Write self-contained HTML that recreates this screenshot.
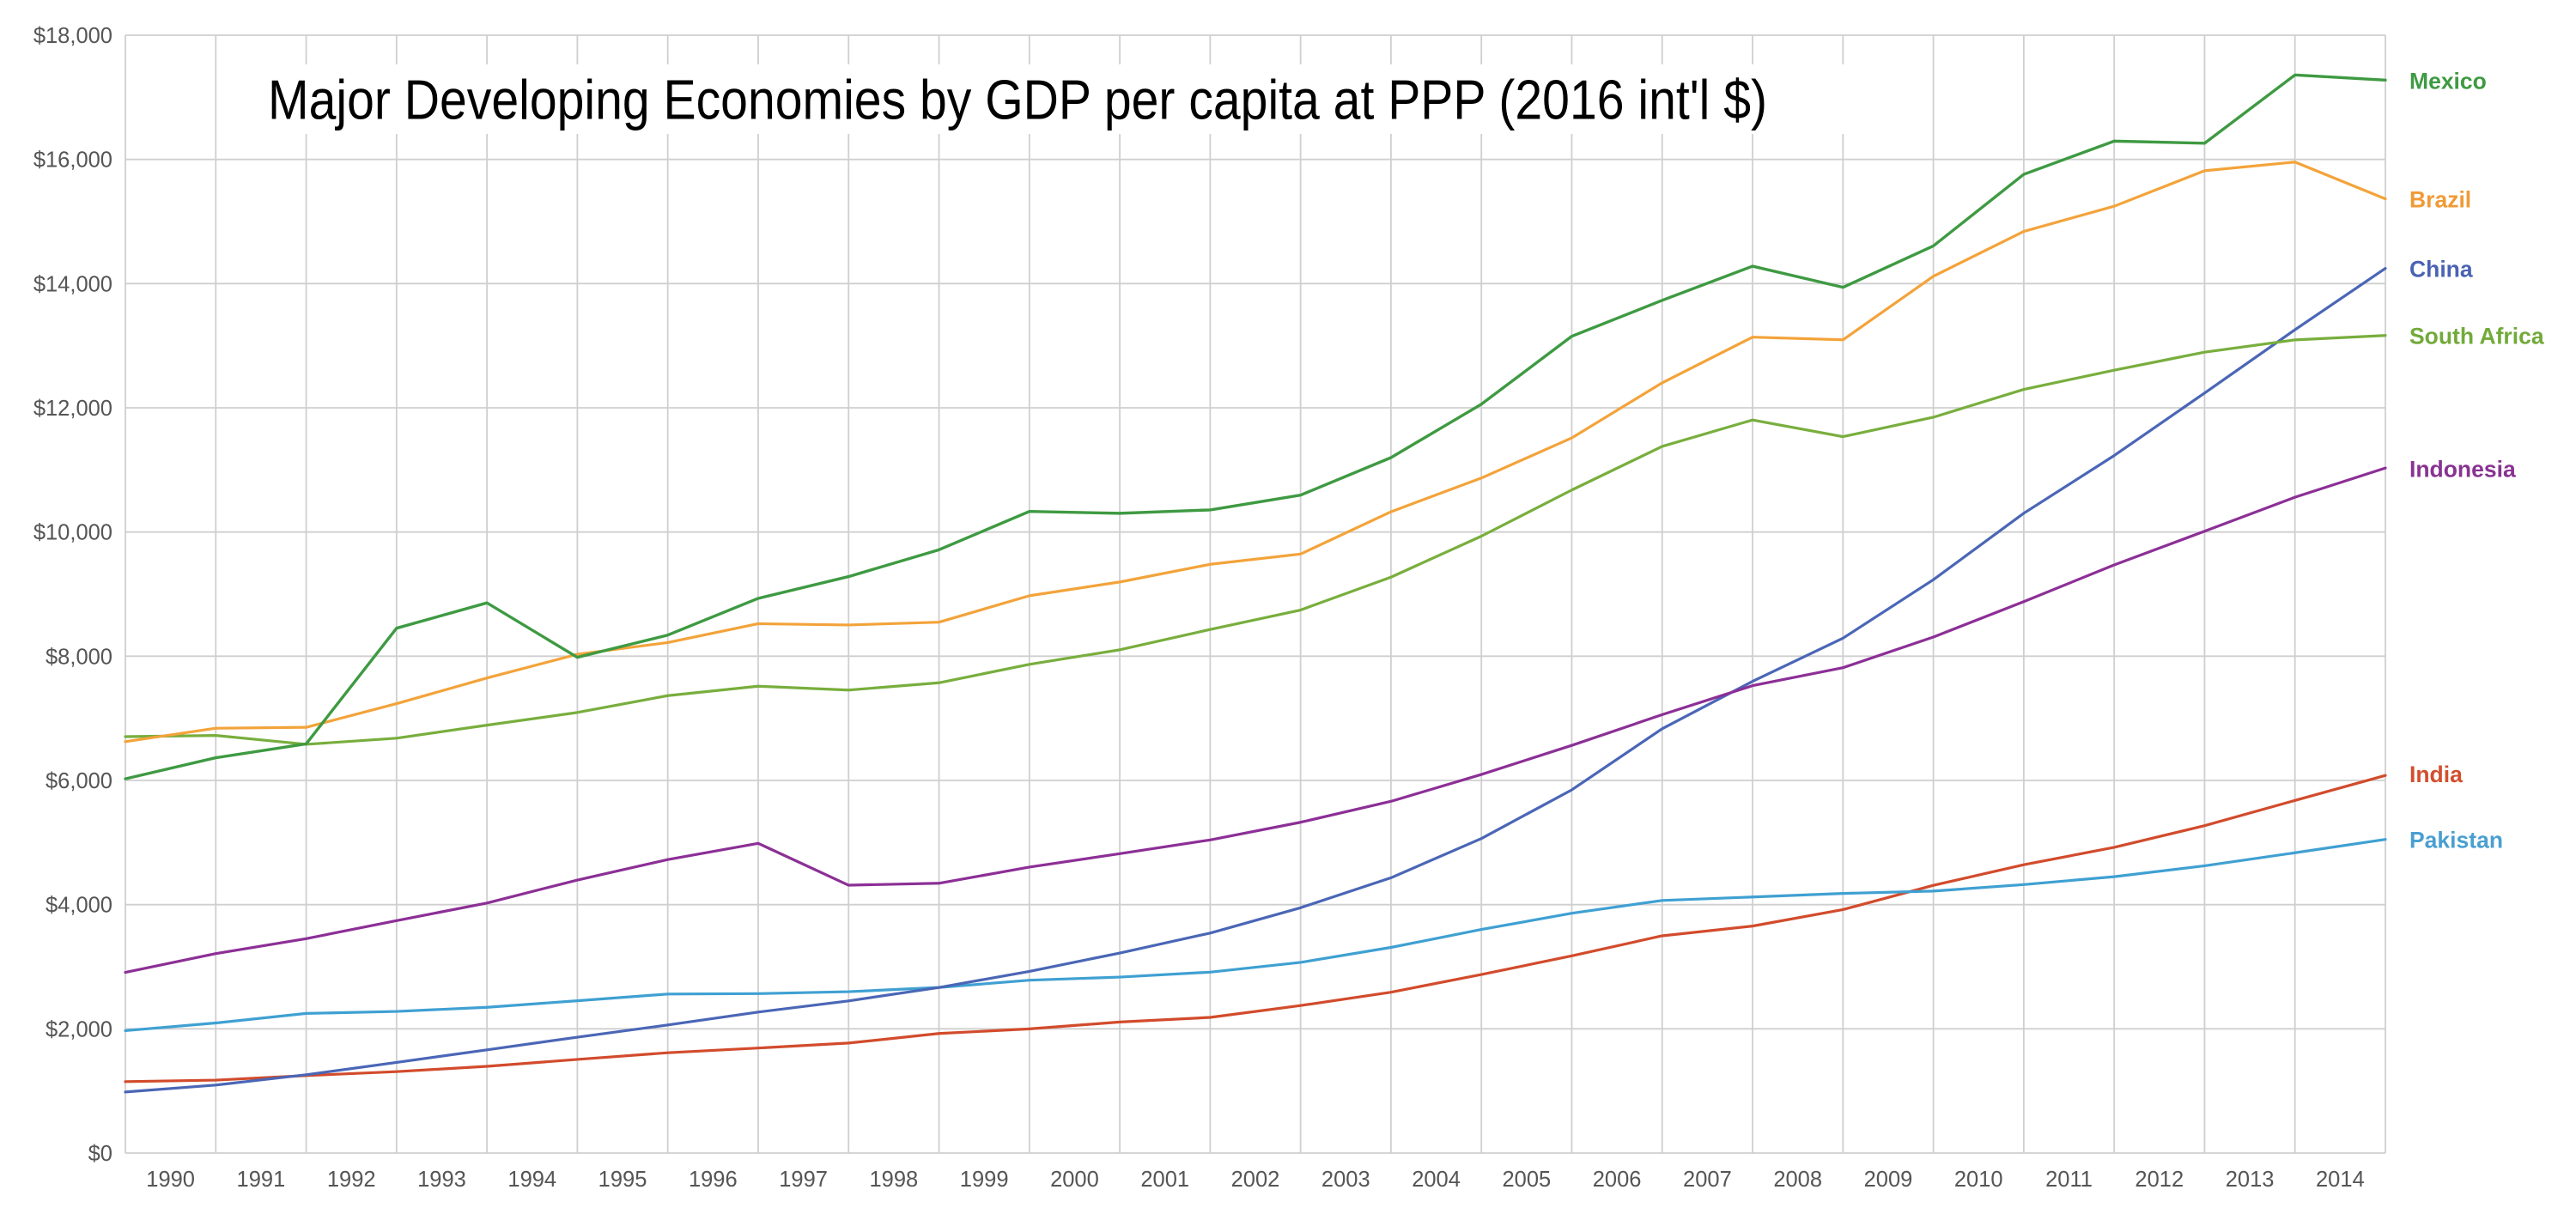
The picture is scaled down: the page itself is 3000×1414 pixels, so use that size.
<!DOCTYPE html>
<html>
<head>
<meta charset="utf-8">
<style>
  html,body{margin:0;padding:0;background:#fff;}
  svg{display:block;}
  .ax{font-family:"Liberation Sans",Arial,sans-serif;font-size:25.5px;fill:#555;}
  .lbl{font-family:"Liberation Sans",Arial,sans-serif;font-size:26.5px;font-weight:bold;}
</style>
</head>
<body>
<svg width="3000" height="1414" viewBox="0 0 3000 1414" xmlns="http://www.w3.org/2000/svg">
  <rect x="0" y="0" width="3000" height="1414" fill="#fff"/>

  <!-- horizontal gridlines -->
  <g stroke="#cfcfcf" stroke-width="1.8" fill="none">
    <line x1="146" y1="41" x2="2778" y2="41"/>
    <line x1="146" y1="185.67" x2="2778" y2="185.67"/>
    <line x1="146" y1="330.33" x2="2778" y2="330.33"/>
    <line x1="146" y1="475" x2="2778" y2="475"/>
    <line x1="146" y1="619.67" x2="2778" y2="619.67"/>
    <line x1="146" y1="764.33" x2="2778" y2="764.33"/>
    <line x1="146" y1="909" x2="2778" y2="909"/>
    <line x1="146" y1="1053.67" x2="2778" y2="1053.67"/>
    <line x1="146" y1="1198.33" x2="2778" y2="1198.33"/>
    <line x1="146" y1="1343" x2="2778" y2="1343"/>
  </g>
  <!-- vertical gridlines -->
  <g stroke="#cfcfcf" stroke-width="1.8" fill="none">
    <line x1="146" y1="41" x2="146" y2="1343"/>
    <line x1="251.28" y1="41" x2="251.28" y2="1343"/>
    <line x1="356.56" y1="41" x2="356.56" y2="1343"/>
    <line x1="461.84" y1="41" x2="461.84" y2="1343"/>
    <line x1="567.12" y1="41" x2="567.12" y2="1343"/>
    <line x1="672.4" y1="41" x2="672.4" y2="1343"/>
    <line x1="777.68" y1="41" x2="777.68" y2="1343"/>
    <line x1="882.96" y1="41" x2="882.96" y2="1343"/>
    <line x1="988.24" y1="41" x2="988.24" y2="1343"/>
    <line x1="1093.52" y1="41" x2="1093.52" y2="1343"/>
    <line x1="1198.8" y1="41" x2="1198.8" y2="1343"/>
    <line x1="1304.08" y1="41" x2="1304.08" y2="1343"/>
    <line x1="1409.36" y1="41" x2="1409.36" y2="1343"/>
    <line x1="1514.64" y1="41" x2="1514.64" y2="1343"/>
    <line x1="1619.92" y1="41" x2="1619.92" y2="1343"/>
    <line x1="1725.2" y1="41" x2="1725.2" y2="1343"/>
    <line x1="1830.48" y1="41" x2="1830.48" y2="1343"/>
    <line x1="1935.76" y1="41" x2="1935.76" y2="1343"/>
    <line x1="2041.04" y1="41" x2="2041.04" y2="1343"/>
    <line x1="2146.32" y1="41" x2="2146.32" y2="1343"/>
    <line x1="2251.6" y1="41" x2="2251.6" y2="1343"/>
    <line x1="2356.88" y1="41" x2="2356.88" y2="1343"/>
    <line x1="2462.16" y1="41" x2="2462.16" y2="1343"/>
    <line x1="2567.44" y1="41" x2="2567.44" y2="1343"/>
    <line x1="2672.72" y1="41" x2="2672.72" y2="1343"/>
    <line x1="2778" y1="41" x2="2778" y2="1343"/>
  </g>

  <!-- title background box -->
  <rect x="300" y="75" width="1860" height="81" fill="#fff"/>
  <text x="312" y="138.5" font-family="'Liberation Sans', Arial, sans-serif" font-size="65" fill="#000" textLength="1746" lengthAdjust="spacingAndGlyphs">Major Developing Economies by GDP per capita at PPP (2016 int'l $)</text>

  <!-- y axis labels -->
  <g class="ax" text-anchor="end">
    <text x="131" y="50">$18,000</text>
    <text x="131" y="194.67">$16,000</text>
    <text x="131" y="339.33">$14,000</text>
    <text x="131" y="484">$12,000</text>
    <text x="131" y="628.67">$10,000</text>
    <text x="131" y="773.33">$8,000</text>
    <text x="131" y="918">$6,000</text>
    <text x="131" y="1062.67">$4,000</text>
    <text x="131" y="1207.33">$2,000</text>
    <text x="131" y="1352">$0</text>
  </g>

  <!-- x axis labels -->
  <g class="ax" text-anchor="middle">
    <text x="198.64" y="1382">1990</text>
    <text x="303.92" y="1382">1991</text>
    <text x="409.2" y="1382">1992</text>
    <text x="514.48" y="1382">1993</text>
    <text x="619.76" y="1382">1994</text>
    <text x="725.04" y="1382">1995</text>
    <text x="830.32" y="1382">1996</text>
    <text x="935.6" y="1382">1997</text>
    <text x="1040.88" y="1382">1998</text>
    <text x="1146.16" y="1382">1999</text>
    <text x="1251.44" y="1382">2000</text>
    <text x="1356.72" y="1382">2001</text>
    <text x="1462" y="1382">2002</text>
    <text x="1567.28" y="1382">2003</text>
    <text x="1672.56" y="1382">2004</text>
    <text x="1777.84" y="1382">2005</text>
    <text x="1883.12" y="1382">2006</text>
    <text x="1988.4" y="1382">2007</text>
    <text x="2093.68" y="1382">2008</text>
    <text x="2198.96" y="1382">2009</text>
    <text x="2304.24" y="1382">2010</text>
    <text x="2409.52" y="1382">2011</text>
    <text x="2514.8" y="1382">2012</text>
    <text x="2620.08" y="1382">2013</text>
    <text x="2725.36" y="1382">2014</text>
  </g>

  <!-- series: data coords (index, value) mapped to pixels -->
  <g transform="matrix(105.28 0 0 -0.072335 146 1343)" fill="none" stroke-linejoin="round" stroke-linecap="round">
    <!-- India -->
    <polyline vector-effect="non-scaling-stroke" stroke="#d24b2c" stroke-width="3.2"
      points="0,1150 1,1174 2,1248 3,1311 4,1396 5,1508 6,1615 7,1691 8,1771 9,1925 10,1999 11,2110 12,2184 13,2375 14,2590 15,2875 16,3175 17,3498 18,3655 19,3920 20,4311 21,4642 22,4922 23,5271 24,5678 25,6080"/>
    <!-- Pakistan -->
    <polyline vector-effect="non-scaling-stroke" stroke="#3fa0d2" stroke-width="3.2"
      points="0,1971 1,2094 2,2248 3,2280 4,2347 5,2452 6,2560 7,2567 8,2598 9,2666 10,2783 11,2833 12,2913 13,3070 14,3311 15,3600 16,3861 17,4067 18,4123 19,4180 20,4218 21,4323 22,4450 23,4625 24,4835 25,5050"/>
    <!-- China -->
    <polyline vector-effect="non-scaling-stroke" stroke="#4a66b6" stroke-width="3.2"
      points="0,983 1,1095 2,1261 3,1459 4,1662 5,1866 6,2062 7,2270 8,2450 9,2666 10,2925 11,3221 12,3542 13,3950 14,4432 15,5064 16,5848 17,6832 18,7595 19,8290 20,9232 21,10302 22,11231 23,12238 24,13257 25,14245"/>
    <!-- Indonesia -->
    <polyline vector-effect="non-scaling-stroke" stroke="#8c2f96" stroke-width="3.2"
      points="0,2909 1,3211 2,3452 3,3742 4,4026 5,4396 6,4725 7,4987 8,4313 9,4344 10,4604 11,4820 12,5042 13,5326 14,5663 15,6096 16,6564 17,7059 18,7526 19,7815 20,8309 21,8879 22,9470 23,10012 24,10560 25,11030"/>
    <!-- South Africa -->
    <polyline vector-effect="non-scaling-stroke" stroke="#78ae3d" stroke-width="3.2"
      points="0,6705 1,6724 2,6581 3,6680 4,6890 5,7094 6,7365 7,7517 8,7455 9,7572 10,7869 11,8103 12,8431 13,8744 14,9273 15,9933 16,10676 17,11378 18,11804 19,11535 20,11848 21,12296 22,12606 23,12896 24,13094 25,13164"/>
    <!-- Brazil -->
    <polyline vector-effect="non-scaling-stroke" stroke="#f3a33a" stroke-width="3.2"
      points="0,6625 1,6840 2,6855 3,7236 4,7649 5,8031 6,8220 7,8523 8,8503 9,8548 10,8974 11,9195 12,9480 13,9645 14,10326 15,10869 16,11515 17,12402 18,13138 19,13095 20,14118 21,14840 22,15246 23,15817 24,15957 25,15364"/>
    <!-- Mexico -->
    <polyline vector-effect="non-scaling-stroke" stroke="#3e9a42" stroke-width="3.4"
      points="0,6026 1,6365 2,6588 3,8451 4,8859 5,7982 6,8340 7,8931 8,9282 9,9714 10,10331 11,10301 12,10356 13,10594 14,11198 15,12058 16,13152 17,13730 18,14280 19,13940 20,14607 21,15759 22,16294 23,16260 24,17359 25,17277"/>
  </g>

  <!-- series labels -->
  <g class="lbl">
    <text x="2806" y="103.5" fill="#3e9a42">Mexico</text>
    <text x="2806" y="241.5" fill="#f09a35">Brazil</text>
    <text x="2806" y="322.5" fill="#4a62b3">China</text>
    <text x="2806" y="400.5" fill="#72aa3a">South Africa</text>
    <text x="2806" y="555.5" fill="#883392">Indonesia</text>
    <text x="2806" y="911" fill="#d24f2e">India</text>
    <text x="2806" y="987.5" fill="#4a9fd0">Pakistan</text>
  </g>
</svg>
</body>
</html>
